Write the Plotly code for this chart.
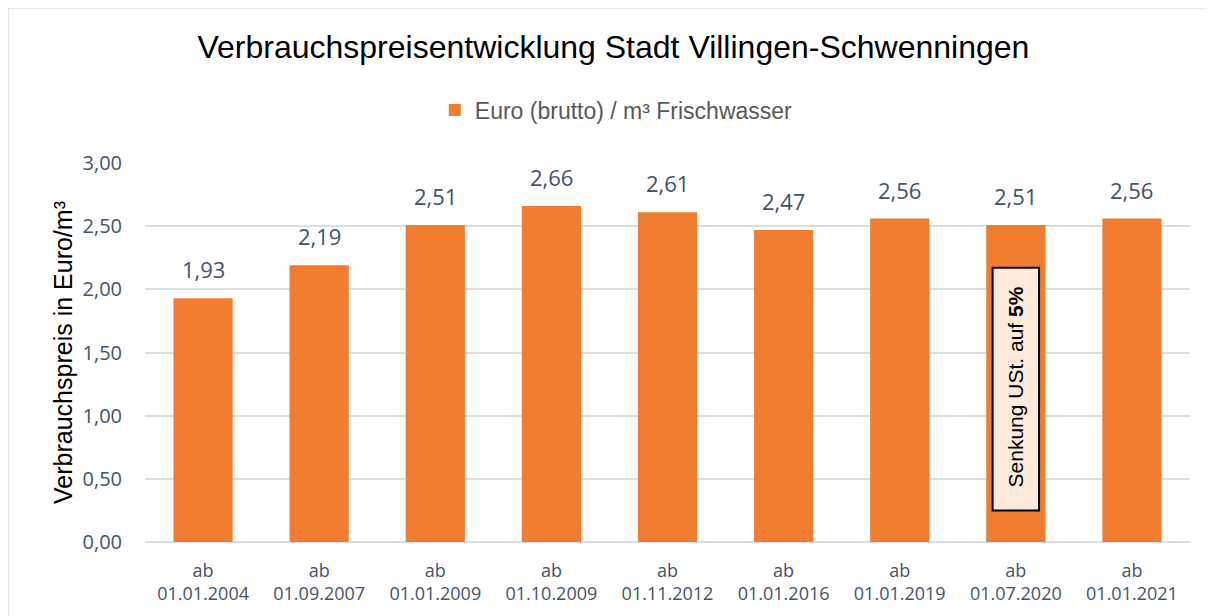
import plotly.graph_objects as go

categories = ["ab<br>01.01.2004", "ab<br>01.09.2007", "ab<br>01.01.2009", "ab<br>01.10.2009",
              "ab<br>01.11.2012", "ab<br>01.01.2016", "ab<br>01.01.2019", "ab<br>01.07.2020",
              "ab<br>01.01.2021"]
values = [1.93, 2.19, 2.51, 2.66, 2.61, 2.47, 2.56, 2.51, 2.56]
labels = [f"{v:.2f}".replace(".", ",") for v in values]
tick_vals = [0, 0.5, 1.0, 1.5, 2.0, 2.5, 3.0]
tick_text = [f"{v:.2f}".replace(".", ",") for v in tick_vals]

slate = "#44546A"
fig = go.Figure()
fig.add_trace(go.Bar(
    x=categories, y=values, name="Euro (brutto) / m³ Frischwasser",
    marker=dict(color="#F07D30", line=dict(width=0)),
))

label_annotations = [
    dict(x=c, y=v, xref="x", yref="y", text=t, showarrow=False,
         yanchor="bottom", yshift=12,
         font=dict(size=22, color=slate, family="Open Sans"))
    for c, v, t in zip(categories, values, labels)
]

fig.update_layout(
    width=1206, height=608,
    paper_bgcolor="white", plot_bgcolor="white",
    margin=dict(l=137, r=24, t=155, b=74),
    title=dict(text="Verbrauchspreisentwicklung Stadt Villingen-Schwenningen",
               x=0.502, xanchor="center", y=0.936, yanchor="middle",
               font=dict(size=32, color="black", family="Arial")),
    showlegend=True,
    legend=dict(orientation="h", x=0.451, xanchor="center", y=1.14, yanchor="middle",
                font=dict(size=23, color="#595959", family="Arial"),
                itemwidth=30),
    bargap=0.49,
    xaxis=dict(showgrid=False, showline=False, ticks="", ticklabelstandoff=16,
               tickfont=dict(size=18, color=slate, family="Open Sans")),
    yaxis=dict(range=[0, 3.0], tickvals=tick_vals, ticktext=tick_text,
               showgrid=True, gridcolor="#D9DEE6", gridwidth=1.5,
               zeroline=True, zerolinecolor="#D9DEE6", zerolinewidth=1.5,
               tickfont=dict(size=20, color=slate, family="Open Sans"),
               ticks="", ticklabelstandoff=22,
               title=dict(text="Verbrauchspreis in Euro/m³", standoff=2,
                          font=dict(size=25, color="black", family="Arial"))),
    shapes=[
        dict(type="rect", xref="paper", yref="paper", x0=-0.131, x1=1.1, y0=-0.2, y1=1.409,
             line=dict(color="#E3E3E3", width=1.5), fillcolor="rgba(0,0,0,0)", layer="below"),
        dict(type="rect", xref="x", yref="y", x0=6.8, x1=7.2, y0=0.25, y1=2.17,
             line=dict(color="black", width=2), fillcolor="#FDEADA", layer="above"),
    ],
    annotations=label_annotations + [
        dict(x=7, y=1.23, xref="x", yref="y", text="Senkung USt. auf <b>5%</b>",
             textangle=-90, showarrow=False,
             font=dict(size=21, color="black", family="Arial")),
    ],
)

fig.write_html("out.html")
